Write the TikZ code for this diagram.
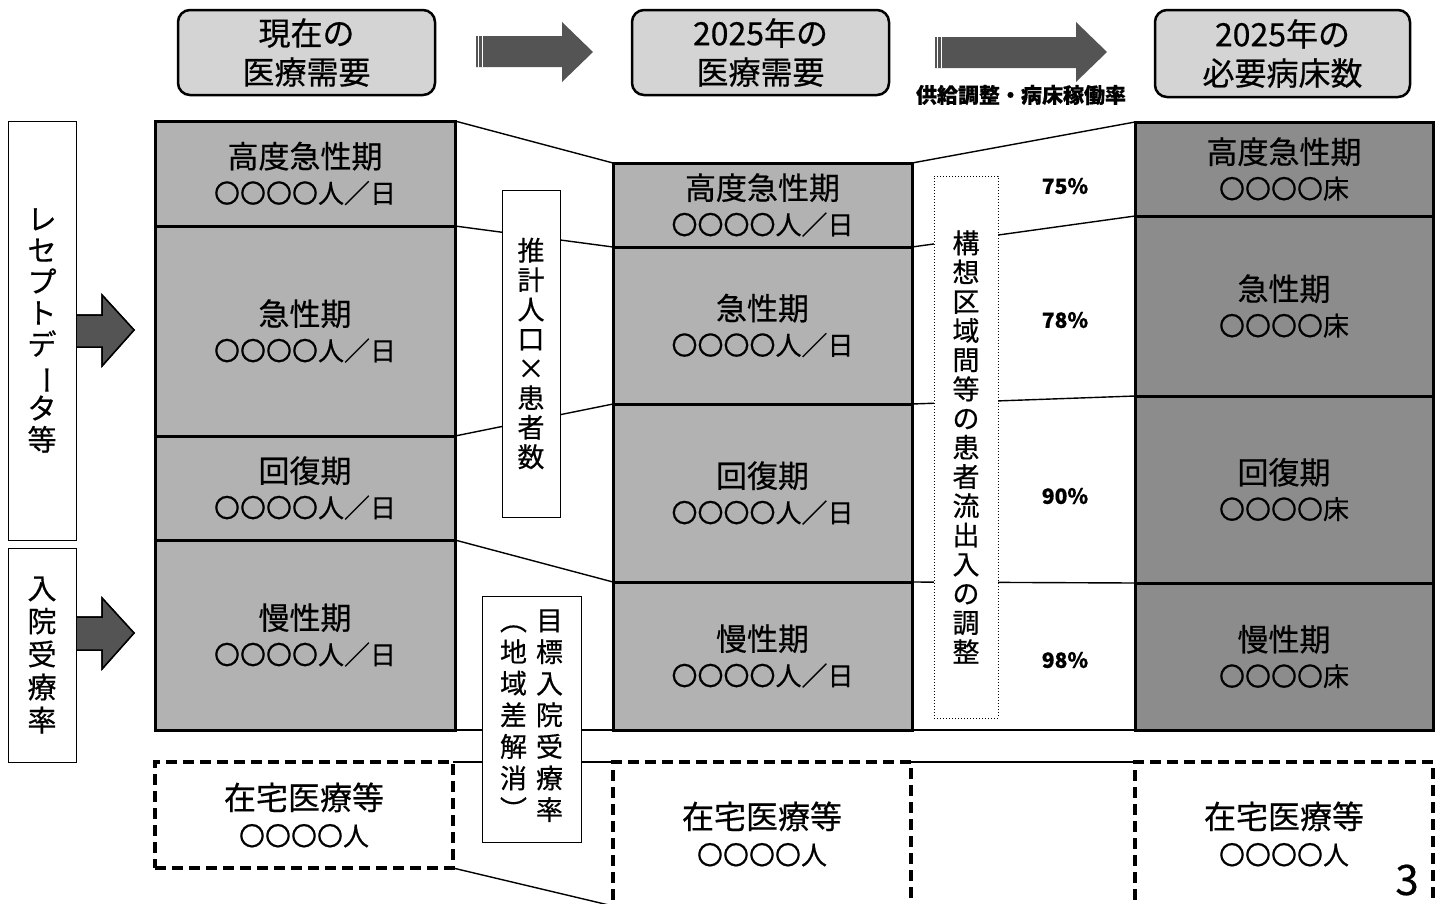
\documentclass[tikz,border=0pt]{standalone}
\usepackage{fontspec}
\setmainfont{Noto Sans CJK JP}[FakeBold=0.5]
\usepackage{graphicx}
\definecolor{hdrfill}{gray}{0.83}
\definecolor{cellfill}{gray}{0.70}
\definecolor{bedfill}{gray}{0.55}
\definecolor{arrfill}{gray}{0.33}
\pgfdeclarelayer{bg}
\pgfsetlayers{bg,main}
\newcommand{\vbar}{\rotatebox[origin=c]{-90}{ー}}
\tikzset{
  hdr/.style={draw, line width=2.5pt, rounded corners=12pt, fill=hdrfill, anchor=north west,
    align=center, inner sep=0pt, outer sep=0pt, minimum width=257pt, minimum height=85pt,
    font=\fontsize{32}{39}\selectfont},
  cell/.style={draw, line width=3pt, anchor=north west, align=center, inner sep=0pt, outer sep=0pt,
    font=\fontsize{31}{35}\selectfont},
  demand/.style={cell, fill=cellfill},
  beds/.style={cell, fill=bedfill},
  home/.style={draw, line width=3.5pt, dash pattern=on 11pt off 6pt, fill=white, anchor=north west,
    align=center, inner sep=0pt, outer sep=0pt, font=\fontsize{32}{36}\selectfont},
  side/.style={draw, line width=1pt, fill=white, anchor=north west, align=center,
    inner sep=0pt, outer sep=0pt, font=\fontsize{29}{31.3}\selectfont},
  mid/.style={draw, line width=1pt, fill=white, anchor=north west, align=center,
    inner sep=0pt, outer sep=0pt, font=\fontsize{27}{29.5}\selectfont},
  conn/.style={line width=1.4pt},
  pct/.style={font=\fontsize{21}{24}\selectfont\bfseries},
  bigarrow/.style={fill=arrfill},
  sidearrow/.style={fill=arrfill, draw=black, line width=1.5pt},
}
\newcommand{\sm}[1]{{\fontsize{26}{28}\selectfont #1}}
\begin{document}
\begin{tikzpicture}[x=1pt,y=-1pt]
\useasboundingbox (0,0) rectangle (1441,903);
\begin{pgfonlayer}{bg}
\fill[white] (0,0) rectangle (1441,903);
\end{pgfonlayer}

% header boxes
\node[hdr] (h1) at (178,10) {現在の\\医療需要};
\node[hdr] (h2) at (632,10) {2025年の\\医療需要};
\node[hdr, minimum width=255pt, minimum height=87pt] (h3) at (1155,10) {2025年の\\必要病床数};

% header arrows
\fill[bigarrow] (476,36) -- (562,36) -- (562,22) -- (593,52) -- (562,82) -- (562,67) -- (476,67) -- cycle;
\foreach \xx in {478.5,482.5} \draw[white, line width=1pt] (\xx,36) -- (\xx,67);
\fill[bigarrow] (935,37) -- (1076,37) -- (1076,22) -- (1107,52) -- (1076,82) -- (1076,68) -- (935,68) -- cycle;
\foreach \xx in {937.5,941.5} \draw[white, line width=1pt] (\xx,37) -- (\xx,68);
\node[font=\fontsize{21}{24}\selectfont\bfseries] (sup) at (1021,95) {供給調整・病床稼働率};

% column 1 : current demand
\node[demand, minimum width=300pt, minimum height=105pt] (a1) at (155,121) {高度急性期\\\sm{〇〇〇〇人／日}};
\node[demand, minimum width=300pt, minimum height=210pt] (a2) at (155,226) {急性期\\\sm{〇〇〇〇人／日}};
\node[demand, minimum width=300pt, minimum height=104pt] (a3) at (155,436) {回復期\\\sm{〇〇〇〇人／日}};
\node[demand, minimum width=300pt, minimum height=190pt] (a4) at (155,540) {慢性期\\\sm{〇〇〇〇人／日}};
\node[home, minimum width=298pt, minimum height=106pt] (d1) at (155,762) {在宅医療等\\\sm{〇〇〇〇人}};

% column 2 : 2025 demand
\node[demand, minimum width=299pt, minimum height=84pt] (b1) at (613,163) {高度急性期\\\sm{〇〇〇〇人／日}};
\node[demand, minimum width=299pt, minimum height=157pt] (b2) at (613,247) {急性期\\\sm{〇〇〇〇人／日}};
\node[demand, minimum width=299pt, minimum height=178pt] (b3) at (613,404) {回復期\\\sm{〇〇〇〇人／日}};
\node[demand, minimum width=299pt, minimum height=148pt] (b4) at (613,582) {慢性期\\\sm{〇〇〇〇人／日}};
\node[home, minimum width=298pt, minimum height=144pt] (d2) at (613,762) {在宅医療等\\\sm{〇〇〇〇人}};

% column 3 : beds
\node[beds, minimum width=298pt, minimum height=94pt] (c1) at (1135,122) {高度急性期\\\sm{〇〇〇〇床}};
\node[beds, minimum width=298pt, minimum height=180pt] (c2) at (1135,216) {急性期\\\sm{〇〇〇〇床}};
\node[beds, minimum width=298pt, minimum height=187pt] (c3) at (1135,396) {回復期\\\sm{〇〇〇〇床}};
\node[beds, minimum width=298pt, minimum height=147pt] (c4) at (1135,583) {慢性期\\\sm{〇〇〇〇床}};
\node[home, minimum width=298pt, minimum height=144pt] (d3) at (1135,762) {在宅医療等\\\sm{〇〇〇〇人}};

% side boxes
\node[side, minimum width=68pt, minimum height=419pt] (s1) at (8,121) {レ\\セ\\プ\\ト\\デ\\\vbar\\タ\\等};
\node[side, minimum width=68pt, minimum height=214pt, font=\fontsize{29}{33}\selectfont] (s2) at (8,548) {入\\院\\受\\療\\率};
\fill[sidearrow] (77,315) -- (102,315) -- (102,295) -- (134,330) -- (102,366) -- (102,347) -- (77,347) -- cycle;
\fill[sidearrow] (77,617) -- (102,617) -- (102,598) -- (134,633) -- (102,669) -- (102,650) -- (77,650) -- cycle;
\draw[sidearrow] (77,315) -- (102,315) -- (102,295) -- (134,330) -- (102,366) -- (102,347) -- (77,347);
\draw[sidearrow] (77,617) -- (102,617) -- (102,598) -- (134,633) -- (102,669) -- (102,650) -- (77,650);

% middle boxes
\node[mid, minimum width=58pt, minimum height=327pt] (m1) at (502,190) {推\\計\\人\\口\\×\\患\\者\\数};
\node[mid, minimum width=99pt, minimum height=246pt] (m2) at (482,596)
  {\renewcommand{\arraystretch}{1}\begin{tabular}{@{}c@{\hspace{9pt}}c@{}}︵&目\\地&標\\域&入\\差&院\\解&受\\消&療\\︶&率\end{tabular}};
\node[mid, dotted, minimum width=64pt, minimum height=542pt, font=\fontsize{27}{29.2}\selectfont] (m3) at (934,176)
  {構\\想\\区\\域\\間\\等\\の\\患\\者\\流\\出\\入\\の\\調\\整};

% percentages
\node[pct] (p1) at (1065,186) {75\%};
\node[pct] (p2) at (1065,320) {78\%};
\node[pct] (p3) at (1065,496) {90\%};
\node[pct] (p4) at (1065,660) {98\%};

% page number
\node[font=\fontsize{42}{46}\selectfont] (pg) at (1407,880) {3};

% connectors
\begin{pgfonlayer}{bg}
\draw[conn] (a1.north east) -- (b1.north west);
\draw[conn] (a2.north east) -- (b2.north west);
\draw[conn] (a3.north east) -- (b3.north west);
\draw[conn] (a4.north east) -- (b4.north west);
\draw[conn] (a4.south east) -- (b4.south west);
\draw[conn] (d1.north east) -- (d2.north west);
\draw[conn] (d1.south east) -- (d2.south west);
\draw[conn] (b1.north east) -- (c1.north west);
\draw[conn] (b2.north east) -- (c2.north west);
\draw[conn] (b3.north east) -- (c3.north west);
\draw[conn] (b4.north east) -- (c4.north west);
\draw[conn] (b4.south east) -- (c4.south west);
\draw[conn] (d2.north east) -- (d3.north west);
\end{pgfonlayer}
\end{tikzpicture}
\end{document}
